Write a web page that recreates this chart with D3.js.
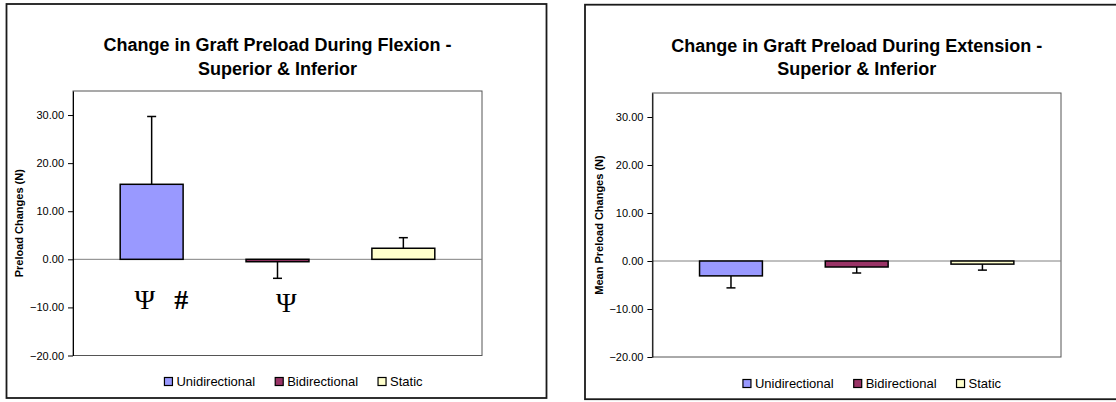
<!DOCTYPE html>
<html>
<head>
<meta charset="utf-8">
<script src="https://cdn.jsdelivr.net/npm/d3@7"></script>
<style>
  html, body { margin: 0; padding: 0; background: #ffffff; }
  svg { display: block; }
  text { font-family: "Liberation Sans", Arial, sans-serif; fill: #000; }
</style>
</head>
<body>
<svg id="chart" width="1116" height="402"></svg>
<script>
// ---- data ----
const seriesNames = ["Unidirectional", "Bidirectional", "Static"];
const seriesColors = ["#9999FF", "#993366", "#FFFFCC"];

const flexionMeans = [15.6, -0.5, 2.3];
const flexionSD = [14.1, 3.45, 2.2];

const extensionMeans = [-3.1, -1.25, -0.65];
const extensionSD = [2.5, 1.25, 1.25];

const yTickValues = [-20, -10, 0, 10, 20, 30];
const yDomain = [-20, 35];

// significance markers under the flexion bars
const flexionSymbols = ["Ψ", "#", "Ψ"];
const flexionSymbolSeries = ["Unidirectional", "Unidirectional", "Bidirectional"];
const flexionSymbolLevels = [-10.3, -10.3, -11.05];

// ---- layout ----
const panels = [
  {
    title: ["Change in Graft Preload During Flexion -", "Superior & Inferior"],
    yLabel: "Preload Changes (N)",
    means: flexionMeans, sd: flexionSD,
    symbols: flexionSymbols, symbolSeries: flexionSymbolSeries, symbolLevels: flexionSymbolLevels,
    symbolFrac: [0.39, 0.97, 0.64],
    box: { x: 6.5, y: 4, w: 540, h: 394 },
    plot: { x0: 73, x1: 482, y0: 91, y1: 355.5 },
    titleBase: [51, 74.5],
    yLabelX: 23,
    legendBase: 385.5
  },
  {
    title: ["Change in Graft Preload During Extension -", "Superior & Inferior"],
    yLabel: "Mean Preload Changes (N)",
    means: extensionMeans, sd: extensionSD,
    symbols: [], symbolSeries: [], symbolLevels: [], symbolFrac: [],
    box: { x: 585, y: 4.7, w: 540, h: 394.5 },
    plot: { x0: 652.4, x1: 1061, y0: 93, y1: 357 },
    titleBase: [51.5, 75],
    yLabelX: 603,
    legendBase: 387.5
  }
];

const svg = d3.select("#chart");
const fmt = d3.format(".2f");

panels.forEach(p => {
  const g = svg.append("g");

  // chart frame
  g.append("rect")
    .attr("x", p.box.x).attr("y", p.box.y)
    .attr("width", p.box.w).attr("height", p.box.h)
    .attr("fill", "#fff").attr("stroke", "#1a1a1a").attr("stroke-width", 1.8);

  const x = d3.scaleBand().domain(seriesNames)
    .range([p.plot.x0, p.plot.x1])
    .paddingInner(0.5).paddingOuter(0.375);
  const y = d3.scaleLinear().domain(yDomain).range([p.plot.y1, p.plot.y0]);
  const color = d3.scaleOrdinal().domain(seriesNames).range(seriesColors);

  // plot area border
  g.append("rect")
    .attr("x", p.plot.x0).attr("y", p.plot.y0)
    .attr("width", p.plot.x1 - p.plot.x0).attr("height", p.plot.y1 - p.plot.y0)
    .attr("fill", "none").attr("stroke", "#555").attr("stroke-width", 1);

  // zero line (category axis)
  g.append("line")
    .attr("x1", p.plot.x0).attr("x2", p.plot.x1)
    .attr("y1", y(0)).attr("y2", y(0))
    .attr("stroke", "#808080").attr("stroke-width", 1);

  // value axis
  const yAxis = d3.axisLeft(y).tickValues(yTickValues).tickFormat(fmt)
    .tickSizeInner(5).tickSizeOuter(0).tickPadding(4);
  const ax = g.append("g").attr("transform", `translate(${p.plot.x0},0)`).call(yAxis);
  ax.select(".domain").attr("stroke", "#000").attr("stroke-width", 1);
  ax.selectAll(".tick line").attr("stroke", "#000");
  ax.selectAll(".tick text")
    .attr("font-family", "'Liberation Sans', Arial, sans-serif")
    .attr("font-size", 11).attr("fill", "#111");

  const rows = seriesNames.map((s, i) => ({ s, m: p.means[i], e: p.sd[i] }));

  // bars
  g.selectAll("rect.bar").data(rows).enter().append("rect")
    .attr("class", "bar")
    .attr("x", d => x(d.s))
    .attr("width", x.bandwidth())
    .attr("y", d => y(Math.max(0, d.m)))
    .attr("height", d => Math.abs(y(d.m) - y(0)))
    .attr("fill", d => color(d.s))
    .attr("stroke", "#000").attr("stroke-width", 1.5);

  // error bars (one-sided, away from zero)
  const capW = 9;
  rows.forEach(d => {
    const cx = x(d.s) + x.bandwidth() / 2;
    const tip = d.m + Math.sign(d.m) * d.e;
    g.append("line")
      .attr("x1", cx).attr("x2", cx)
      .attr("y1", y(d.m)).attr("y2", y(tip))
      .attr("stroke", "#000").attr("stroke-width", 1.5);
    g.append("line")
      .attr("x1", cx - capW / 2).attr("x2", cx + capW / 2)
      .attr("y1", y(tip)).attr("y2", y(tip))
      .attr("stroke", "#000").attr("stroke-width", 1.5);
  });

  // significance markers
  p.symbols.forEach((sym, i) => {
    g.append("text")
      .attr("x", x(p.symbolSeries[i]) + p.symbolFrac[i] * x.bandwidth())
      .attr("y", y(p.symbolLevels[i]))
      .attr("text-anchor", "middle")
      .style("font-family", "'Liberation Serif', 'Times New Roman', serif")
      .attr("font-size", 28)
      .attr("font-weight", sym === "#" ? "bold" : "normal")
      .text(sym);
  });

  // title
  const cx = (p.plot.x0 + p.plot.x1) / 2;
  p.title.forEach((t, i) => {
    g.append("text")
      .attr("x", cx).attr("y", p.titleBase[i])
      .attr("text-anchor", "middle")
      .attr("font-size", 18).attr("font-weight", "bold")
      .text(t);
  });

  // y-axis label
  g.append("text")
    .attr("transform", `translate(${p.yLabelX},${(p.plot.y0 + p.plot.y1) / 2}) rotate(-90)`)
    .attr("text-anchor", "middle")
    .attr("font-size", 11).attr("font-weight", "bold")
    .text(p.yLabel);

  // legend
  const sq = 8, gapText = 4, gapItem = 20;
  const leg = g.append("g");
  const items = seriesNames.map(s => {
    const t = leg.append("text").attr("font-size", 13).attr("y", p.legendBase).text(s);
    return { s, t, w: t.node().getComputedTextLength() };
  });
  const total = d3.sum(items, d => sq + gapText + d.w) + gapItem * (items.length - 1);
  let lx = p.box.x + p.box.w / 2 + 17 - total / 2;
  items.forEach(d => {
    leg.append("rect")
      .attr("x", lx).attr("y", p.legendBase - sq)
      .attr("width", sq).attr("height", sq)
      .attr("fill", color(d.s)).attr("stroke", "#000").attr("stroke-width", 1.2);
    d.t.attr("x", lx + sq + gapText);
    lx += sq + gapText + d.w + gapItem;
  });
});
</script>
</body>
</html>
